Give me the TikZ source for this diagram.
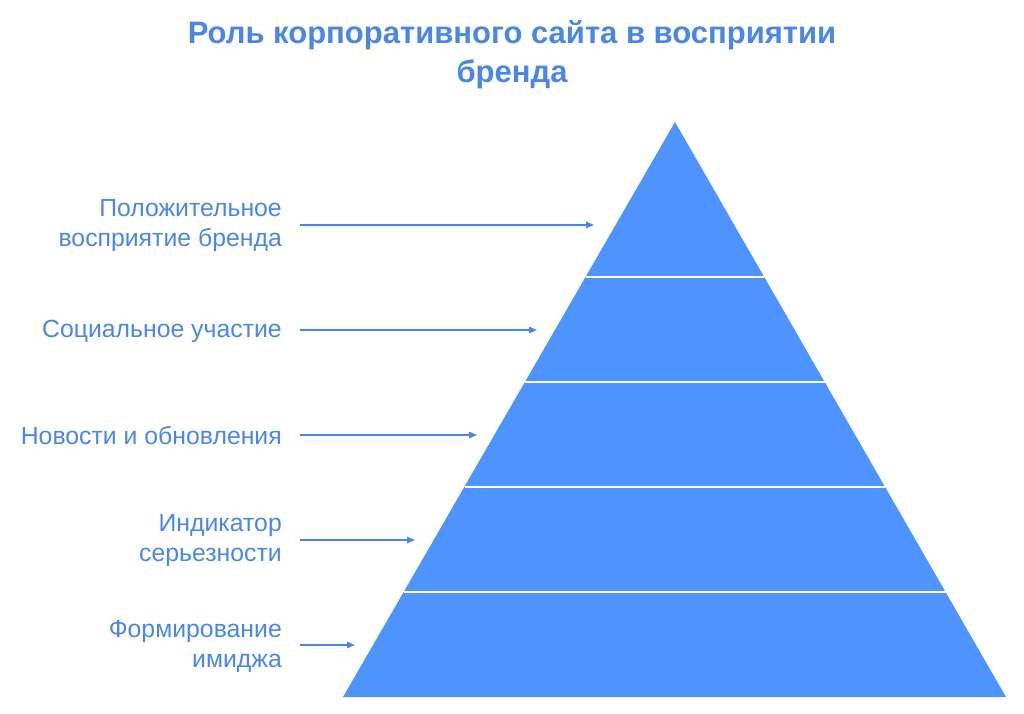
\documentclass[tikz,border=0pt]{standalone}
\usepackage{fontspec}
\setmainfont{Liberation Sans}
\usetikzlibrary{arrows.meta}
\definecolor{pyr}{HTML}{4F93FF}
\definecolor{txt}{HTML}{4A86E8}
\begin{document}
\begin{tikzpicture}[x=1pt,y=-1pt,
  lbl/.style={anchor=east,align=right,text=txt,font=\fontsize{24.8}{30}\selectfont,inner sep=0pt},
  arr/.style={draw=txt,line width=1.2pt,-{Triangle[length=8pt,width=6.5pt]}},
  sep/.style={draw=white,line width=1.5pt}]
\useasboundingbox (0,0) rectangle (1024,713);
\fill[pyr] (675,122) -- (1006,697) -- (343,697) -- cycle;
% separators
\foreach \y in {277,382,487,592}{
  \pgfmathsetmacro{\dx}{(\y-122)/575*331.5}
  \draw[sep] ({675-\dx},\y) -- ({675+\dx},\y);
}
\node[text=txt,font=\bfseries\fontsize{31}{39}\selectfont,align=center] (title) at (512,55) {Роль корпоративного сайта в восприятии\\бренда};
\node[lbl] (l1) at (282,226) {Положительное\\восприятие бренда};
\node[lbl] (l2) at (282,331) {Социальное участие};
\node[lbl] (l3) at (282,436) {Новости и обновления};
\node[lbl] (l4) at (282,541) {Индикатор\\серьезности};
\node[lbl] (l5) at (282,646) {Формирование\\имиджа};
\coordinate (t1) at (594,225);
\coordinate (t2) at (537,330);
\coordinate (t3) at (477,435);
\coordinate (t4) at (415,540);
\coordinate (t5) at (355,645);
\foreach \i in {1,...,5}{
  \draw[arr] ([xshift=18pt]l\i.east |- t\i) -- (t\i);
}
\end{tikzpicture}
\end{document}
